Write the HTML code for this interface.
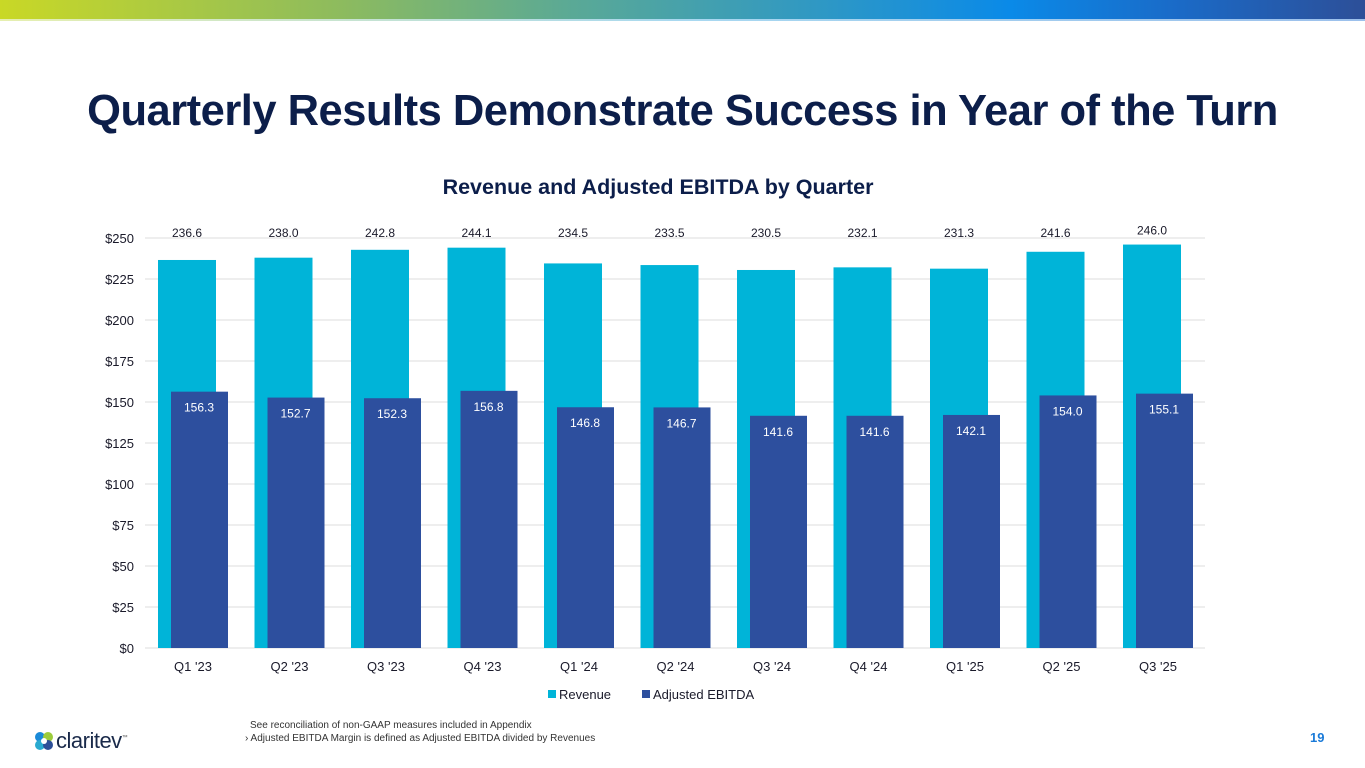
<!DOCTYPE html>
<html><head><meta charset="utf-8"><style>
body{margin:0;width:1365px;height:768px;background:#fff;font-family:"Liberation Sans",sans-serif;position:relative;overflow:hidden}
.topbar{position:absolute;left:0;top:0;width:1365px;height:19px;background:linear-gradient(90deg,#c9d826 0%,#8dbb5e 25%,#5aa996 42%,#2f98c4 60%,#0a8ae8 74%,#1a6bc8 86%,#2d4f98 100%)}
.topline{position:absolute;left:0;top:19px;width:1365px;height:2px;background:linear-gradient(90deg,#e6efb0,#a8d8f0,#9cc0ec)}
h1{position:absolute;left:0;width:1365px;top:87px;margin:0;text-align:center;font-size:43.5px;font-weight:bold;color:#0c1e4a;letter-spacing:-0.5px}
.foot{position:absolute;font-size:10px;color:#333}
</style></head><body>
<div class="topbar"></div>
<div class="topline"></div>
<h1>Quarterly Results Demonstrate Success in Year of the Turn</h1>
<svg id="chart" width="1365" height="768" style="position:absolute;left:0;top:0"></svg>
<div class="foot" style="left:250px;top:720px">See reconciliation of non-GAAP measures included in Appendix</div>
<div class="foot" style="left:245px;top:733px">› Adjusted EBITDA Margin is defined as Adjusted EBITDA divided by Revenues</div>
<div style="position:absolute;left:34px;top:728px;display:flex;align-items:center">
<svg width="20" height="20" viewBox="0 0 20 20"><circle cx="6" cy="6" r="5" fill="#1a8ad8"/><circle cx="14" cy="6" r="5" fill="#9ccc3c"/><circle cx="6" cy="14" r="5" fill="#2aaad0"/><circle cx="14" cy="14" r="5" fill="#2d4f98"/><circle cx="10" cy="10" r="3" fill="#fff"/></svg>
<span style="font-size:22px;color:#1a2a4a;margin-left:2px;letter-spacing:-0.5px">claritev</span><span style="font-size:6px;color:#555;margin-top:-6px">™</span></div>
<div style="position:absolute;left:1310px;top:730px;font-size:13px;font-weight:bold;color:#1a7ad8">19</div>
<script>
const categories=["Q1 '23","Q2 '23","Q3 '23","Q4 '23","Q1 '24","Q2 '24","Q3 '24","Q4 '24","Q1 '25","Q2 '25","Q3 '25"];
const revenue=[236.6,238.0,242.8,244.1,234.5,233.5,230.5,232.1,231.3,241.6,246.0];
const ebitda=[156.3,152.7,152.3,156.8,146.8,146.7,141.6,141.6,142.1,154.0,155.1];
const yTicks=[0,25,50,75,100,125,150,175,200,225,250];
const NS="http://www.w3.org/2000/svg";
const svg=document.getElementById('chart');
const y0=648,y1=238,left=145,right=1205,step=96.5,first=193;
const y=v=>y0-(v/250)*(y0-y1);
const x=i=>first+i*step;
function mk(tag,attrs,txt){const e=document.createElementNS(NS,tag);for(const k in attrs)e.setAttribute(k,attrs[k]);if(txt!=null)e.textContent=txt;svg.appendChild(e);return e;}
const t=mk('text',{x:658,y:194,'text-anchor':'middle','font-size':21.5,'font-weight':'bold',fill:'#0c1e4a'},'Revenue and Adjusted EBITDA by Quarter');


yTicks.forEach(v=>{
 const g=mk('line',{x1:left,x2:right,y1:y(v),y2:y(v),stroke:'#dcdcdc','stroke-width':1});
 
 
 const l=mk('text',{x:134,y:y(v)+5,'text-anchor':'end','font-size':13,fill:'#1a1a2a'},'$'+v);
 
 
});
categories.forEach((c,i)=>{
 const cx=x(i);
 const r=mk('rect',{x:cx-35,y:y(revenue[i]),width:58,height:y0-y(revenue[i]),fill:'#00b4d8'});
 
 
 const e=mk('rect',{x:cx-22,y:y(ebitda[i]),width:57,height:y0-y(ebitda[i]),fill:'#2d4f9e'});
 
 
 const rl=mk('text',{x:cx-6,y:Math.min(y(revenue[i])-10,237),'text-anchor':'middle','font-size':12,fill:'#1a1a2a'},revenue[i].toFixed(1));
 
 
 const el=mk('text',{x:cx+6,y:y(ebitda[i])+20,'text-anchor':'middle','font-size':12,fill:'#fff'},ebitda[i].toFixed(1));
 
 
 const xl=mk('text',{x:cx,y:671,'text-anchor':'middle','font-size':13,fill:'#1a1a2a'},c);
 
 
});
const s1=mk('rect',{x:548,y:690,width:8,height:8,fill:'#00b4d8'});


const l1=mk('text',{x:559,y:699,'font-size':13,fill:'#1a1a2a'},'Revenue');


const s2=mk('rect',{x:642,y:690,width:8,height:8,fill:'#2d4f9e'});


const l2=mk('text',{x:653,y:699,'font-size':13,fill:'#1a1a2a'},'Adjusted EBITDA');


</script>
</body></html>
